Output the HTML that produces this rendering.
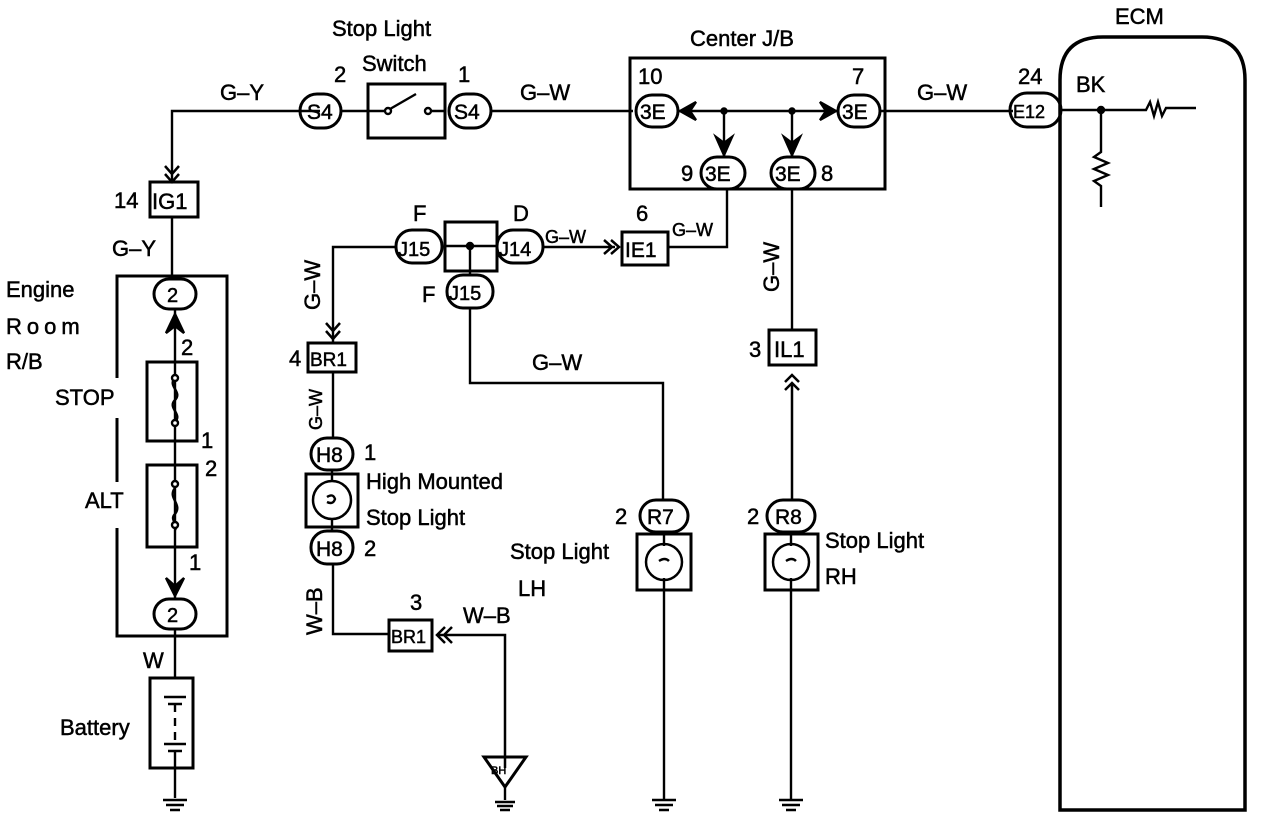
<!DOCTYPE html>
<html><head><meta charset="utf-8"><style>
html,body{margin:0;padding:0;background:#fff;}
svg{display:block;}
text{font-family:"Liberation Sans",sans-serif;fill:#000;stroke:#000;stroke-width:0.5;}
</style></head><body>
<svg width="1264" height="820" viewBox="0 0 1264 820" xmlns="http://www.w3.org/2000/svg">
<g stroke="#000" fill="none" stroke-width="2.4">
<path d="M172 180 V111 H320"/>
<path d="M492 111 H633"/>
<path d="M165 166 L172 174 L179 166 M165 174 L172 182 L179 174" stroke-width="2.5"/>
<rect x="300" y="94" width="41" height="34" rx="17" stroke-width="3"/>
<rect x="368" y="84" width="77" height="54" stroke-width="3"/>
<rect x="449" y="94" width="42" height="34" rx="17" stroke-width="3"/>
<path d="M341 111 H384 M446 111 H432"/>
<circle cx="388" cy="111" r="3"/><circle cx="428" cy="111" r="3"/>
<path d="M390 109 L416 94"/>
<rect x="150" y="182" width="48" height="35" stroke-width="3"/>
<path d="M172 217 V278"/>
<path d="M117 378 V276 H227 V636 H117 V528" stroke-width="3"/>
<path d="M117 418 V482" stroke-width="3"/>
<rect x="154" y="279" width="42" height="30" rx="15" stroke-width="3"/>
<rect x="154" y="599" width="42" height="30" rx="15" stroke-width="3"/>
<path d="M175 310 V599"/>
<rect x="147" y="362" width="50" height="79" stroke-width="3"/>
<rect x="147" y="465" width="50" height="82" stroke-width="3"/>
<path d="M175 378 c-8 8 8 14 0 22 c-8 8 8 14 0 22" />
<path d="M175 488 c-8 10 8 16 0 26 c-6 6 4 10 0 16" />
<circle cx="175" cy="378" r="3" fill="#fff"/><circle cx="175" cy="423" r="3" fill="#fff"/>
<circle cx="175" cy="484" r="3" fill="#fff"/><circle cx="175" cy="525" r="3" fill="#fff"/>
<path d="M166 333 L175 314 L184 333 L175 326 Z" fill="#000"/>
<path d="M166 578 L175 596 L184 578 L175 586 Z" fill="#000"/>
<path d="M175 630 V678"/>
<rect x="150" y="678" width="43" height="90" stroke-width="3"/>
<path d="M164 697 H186 M168 704 H182 M175 704 V712 M175 718 V726 M175 732 V740 M164 744 H186 M168 751 H182 M175 751 V798"/>
<path d="M163 800 H187 M166 805 H184 M170 810 H180"/>
<rect x="630" y="58" width="255" height="131" stroke-width="3"/>
<rect x="636" y="95" width="42" height="32" rx="16" stroke-width="3"/>
<rect x="838" y="95" width="42" height="32" rx="16" stroke-width="3"/>
<rect x="701" y="157" width="44" height="32" rx="16" stroke-width="3"/>
<rect x="771" y="157" width="44" height="32" rx="16" stroke-width="3"/>
<path d="M678 111 H838 M724 111 V157 M792 111 V157"/>
<path d="M680 111 L696 102 L690 111 L696 120 Z" fill="#000"/>
<path d="M836 111 L820 102 L826 111 L820 120 Z" fill="#000"/>
<path d="M716 137 L724 155 L732 137 L724 143 Z" fill="#000"/>
<path d="M784 137 L792 155 L800 137 L792 143 Z" fill="#000"/>
<circle cx="724" cy="111" r="2.5" fill="#000"/><circle cx="792" cy="111" r="2.5" fill="#000"/>
<path d="M881 111 H1013"/>
<rect x="1010" y="93" width="51" height="34" rx="17" stroke-width="3"/>
<path d="M1060 80 Q1060 37 1103 37 H1202 Q1245 37 1245 80 V810 H1060 Z" stroke-width="3.5"/>
<path d="M1061 110 H1146 l4 -8 l4 14 l4 -14 l4 14 l4 -8 H1196"/>
<path d="M1101 110 V152 l-7 5 l14 6 l-14 6 l14 6 l-14 6 l7 5 V207"/>
<circle cx="1101" cy="110" r="3" fill="#000"/>
<path d="M727 189 V247 H668"/>
<rect x="622" y="232" width="46" height="33" stroke-width="3"/>
<path d="M543 247 H615 M604 240 L612 247 L604 254 M611 240 L619 247 L611 254" stroke-width="2.5"/>
<rect x="445" y="222" width="52" height="49" stroke-width="3"/>
<path d="M445 246 H497 M470 246 V275"/>
<circle cx="470" cy="246" r="3" fill="#000"/>
<rect x="396" y="230" width="46" height="33" rx="16" stroke-width="3"/>
<rect x="497" y="230" width="46" height="33" rx="16" stroke-width="3"/>
<rect x="447" y="275" width="46" height="33" rx="16" stroke-width="3"/>
<path d="M396 247 H333 V343"/>
<path d="M326 323 L333 331 L340 323 M326 331 L333 339 L340 331" stroke-width="2.5"/>
<rect x="308" y="343" width="48" height="29" stroke-width="3"/>
<path d="M333 372 V437"/>
<rect x="311" y="438" width="42" height="32" rx="16" stroke-width="3"/>
<rect x="306" y="474" width="52" height="53" stroke-width="3"/>
<circle cx="332" cy="500" r="19" stroke-width="2.5"/>
<path d="M332 470 V482 M332 518 V531 M327 497 q6 -4 8 2 q-2 6 -8 3"/>
<rect x="311" y="531" width="42" height="33" rx="16" stroke-width="3"/>
<path d="M333 564 V634 H388"/>
<rect x="389" y="620" width="43" height="31" stroke-width="3"/>
<path d="M445 627 L437 635 L445 643 M452 627 L444 635 L452 643 M437 635 H505 V768" stroke-width="2.5"/>
<path d="M484 757 H526 L505 787 Z" stroke-width="3"/>
<path d="M505 787 V800 M495 802 H515 M497 806 H513 M500 810 H510"/>
<path d="M470 308 V383 H663 V500"/>
<rect x="640" y="500" width="48" height="32" rx="16" stroke-width="3"/>
<rect x="637" y="534" width="54" height="56" stroke-width="3"/>
<circle cx="664" cy="562" r="18" stroke-width="2.5"/>
<path d="M664 532 V546 M664 578 V800 M659 561 q6 -4 10 0 M652 800 H676 M655 805 H673 M659 810 H669"/>
<path d="M792 189 V330"/>
<rect x="769" y="330" width="47" height="35" stroke-width="3"/>
<path d="M785 382 L792 375 L799 382 M785 390 L792 383 L799 390 M792 383 V500" stroke-width="2.5"/>
<rect x="767" y="500" width="48" height="32" rx="16" stroke-width="3"/>
<rect x="765" y="534" width="53" height="56" stroke-width="3"/>
<circle cx="791" cy="562" r="18" stroke-width="2.5"/>
<path d="M791 532 V546 M791 578 V800 M786 561 q6 -4 10 0 M779 800 H803 M782 805 H800 M786 810 H796"/>
</g>
<g font-size="22">
<text x="332" y="36">Stop Light</text>
<text x="362" y="71">Switch</text>
<text x="334" y="82">2</text><text x="458" y="82">1</text>
<text x="220" y="100">G–Y</text>
<text x="520" y="100">G–W</text>
<text x="307" y="119" font-size="21">S4</text>
<text x="454" y="119" font-size="21">S4</text>
<text x="690" y="46">Center J/B</text>
<text x="1115" y="24">ECM</text>
<text x="638" y="84">10</text><text x="852" y="84">7</text>
<text x="640" y="119" font-size="21">3E</text><text x="842" y="119" font-size="21">3E</text>
<text x="705" y="181" font-size="21">3E</text><text x="775" y="181" font-size="21">3E</text>
<text x="681" y="181">9</text><text x="821" y="181">8</text>
<text x="917" y="100">G–W</text>
<text x="1018" y="84">24</text>
<text x="1013" y="118" font-size="18">E12</text>
<text x="1076" y="92">BK</text>
<text x="114" y="208">14</text>
<text x="152" y="209" font-size="22">IG1</text>
<text x="112" y="256">G–Y</text>
<text x="6" y="297">Engine</text>
<text x="6" y="334" letter-spacing="5">Room</text>
<text x="6" y="369">R/B</text>
<text x="55" y="405">STOP</text>
<text x="85" y="508">ALT</text>
<text x="167" y="302" font-size="20">2</text>
<text x="167" y="622" font-size="20">2</text>
<text x="181" y="355">2</text>
<text x="201" y="448">1</text>
<text x="205" y="476">2</text>
<text x="189" y="570">1</text>
<text x="143" y="668">W</text>
<text x="60" y="735">Battery</text>
<text x="413" y="221">F</text><text x="513" y="221">D</text>
<text x="398" y="256" font-size="20">J15</text>
<text x="499" y="256" font-size="20">J14</text>
<text x="449" y="300" font-size="20">J15</text>
<text x="422" y="302">F</text>
<text x="545" y="243" font-size="18">G–W</text>
<text x="636" y="221">6</text>
<text x="625" y="257" font-size="21">IE1</text>
<text x="672" y="236" font-size="18">G–W</text>
<text x="532" y="370">G–W</text>
<text x="289" y="366">4</text>
<text x="310" y="366" font-size="19">BR1</text>
<text x="316" y="462" font-size="21">H8</text><text x="364" y="460">1</text>
<text x="316" y="556" font-size="21">H8</text><text x="364" y="556">2</text>
<text x="366" y="489">High Mounted</text>
<text x="366" y="525">Stop Light</text>
<text x="410" y="610">3</text>
<text x="391" y="643" font-size="18">BR1</text>
<text x="463" y="623">W–B</text>
<text x="491" y="774" font-size="11">BH</text>
<text x="615" y="524">2</text>
<text x="647" y="524" font-size="21">R7</text>
<text x="510" y="559">Stop Light</text>
<text x="518" y="596">LH</text>
<text x="747" y="524">2</text>
<text x="775" y="524" font-size="21">R8</text>
<text x="825" y="548">Stop Light</text>
<text x="825" y="584">RH</text>
<text x="749" y="357">3</text>
<text x="774" y="357" font-size="22">IL1</text>
<text transform="translate(320,310) rotate(-90)">G–W</text>
<text transform="translate(322,430) rotate(-90)" font-size="18">G–W</text>
<text transform="translate(322,635) rotate(-90)">W–B</text>
<text transform="translate(779,292) rotate(-90)">G–W</text>
</g>
</svg>
</body></html>
